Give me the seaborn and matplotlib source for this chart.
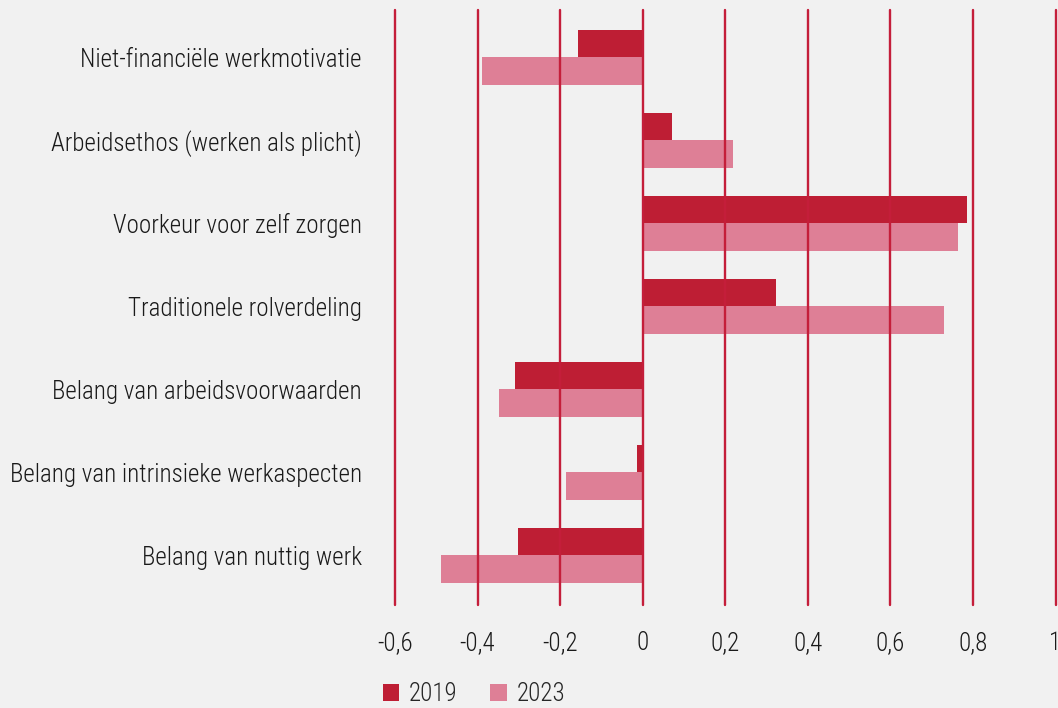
import matplotlib
matplotlib.use("Agg")
import matplotlib.pyplot as plt
from matplotlib.patches import Patch
import seaborn as sns
import pandas as pd

categories = [
    "Niet-financiële werkmotivatie",
    "Arbeidsethos (werken als plicht)",
    "Voorkeur voor zelf zorgen",
    "Traditionele rolverdeling",
    "Belang van arbeidsvoorwaarden",
    "Belang van intrinsieke werkaspecten",
    "Belang van nuttig werk",
]
values_2019 = [-0.157, 0.071, 0.785, 0.322, -0.309, -0.014, -0.302]
values_2023 = [-0.389, 0.218, 0.765, 0.729, -0.348, -0.186, -0.489]
series = ["2019", "2023"]
xticks = [-0.6, -0.4, -0.2, 0, 0.2, 0.4, 0.6, 0.8, 1.0]
xtick_labels = ["-0,6", "-0,4", "-0,2", "0", "0,2", "0,4", "0,6", "0,8", "1"]

colors = {"2019": "#be1e34", "2023": "#de7f96"}
bg = "#f1f1f1"
grid_color = "#c41e3a"

sns.set_theme(style="white")
plt.rcParams["font.family"] = ["Roboto Condensed", "Liberation Sans Narrow", "Roboto", "DejaVu Sans"]
plt.rcParams["font.weight"] = "light"
FS = 18

df = pd.DataFrame({
    "categorie": categories * 2,
    "waarde": values_2019 + values_2023,
    "jaar": ["2019"] * len(categories) + ["2023"] * len(categories),
})

fig = plt.figure(figsize=(10.58, 7.08), dpi=100, facecolor=bg)
ax = fig.add_axes([395 / 1058, 1 - 605 / 708, (1055.5 - 395) / 1058, 595 / 708])
ax.set_facecolor(bg)

sns.barplot(data=df, y="categorie", x="waarde", hue="jaar", orient="h",
            palette=colors, width=0.66, gap=0, ax=ax, legend=False,
            linewidth=0, saturation=1)

ax.set_xlim(-0.6, 1.0)
ax.set_ylim(6.6, -0.57)
ax.set_xticks(xticks)
ax.set_xticklabels(xtick_labels, fontsize=FS, color="#1a1a1a")
ax.set_yticks(range(len(categories)))
ax.set_yticklabels(categories, fontsize=FS, color="#1a1a1a")
ax.tick_params(axis="x", length=0, pad=19)
ax.tick_params(axis="y", length=0, pad=24)
ax.set_xlabel("")
ax.set_ylabel("")
for s in ax.spines.values():
    s.set_visible(False)

ax.set_axisbelow(False)
ax.xaxis.grid(True, color=grid_color, linewidth=1.7)
ax.yaxis.grid(False)
for gl in ax.get_xgridlines():
    gl.set_clip_on(False)

handles = [Patch(facecolor=colors[s], edgecolor="none", label=s) for s in series]
fig.legend(handles=handles, loc="center", bbox_to_anchor=(474 / 1058, 1 - 694 / 708),
           ncol=2, frameon=False, fontsize=FS, handlelength=0.65, handleheight=0.65,
           handletextpad=0.4, columnspacing=1.3)

fig.savefig("out.png", dpi=100, facecolor=bg)
